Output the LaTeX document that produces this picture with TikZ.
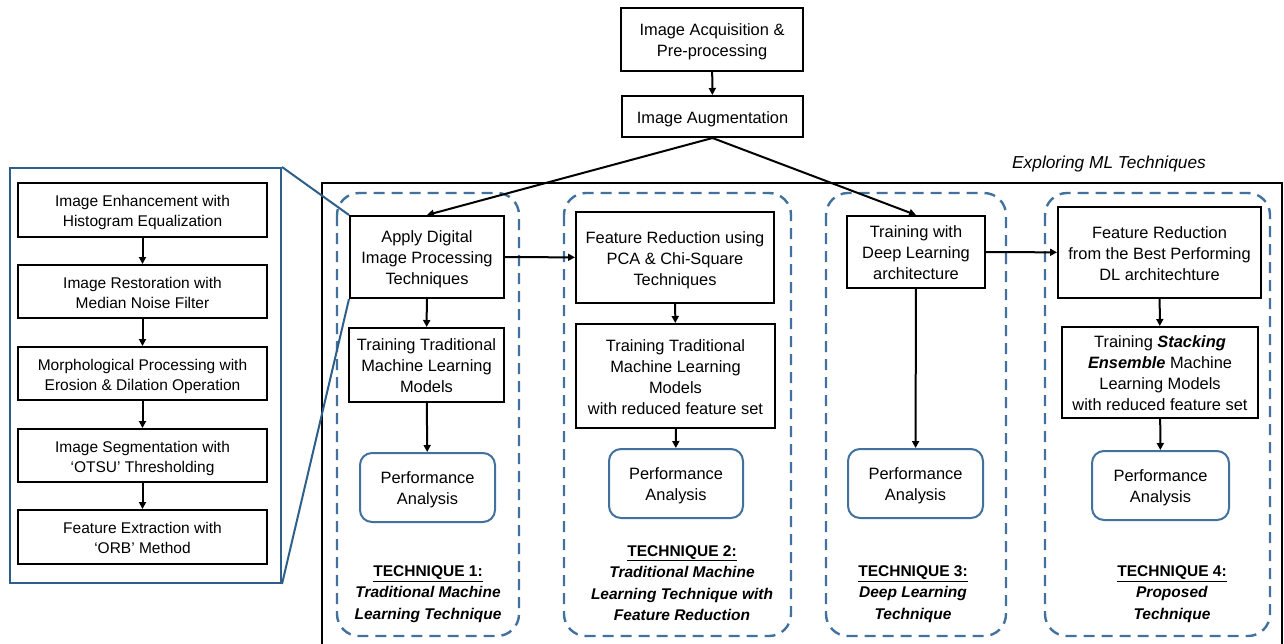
\documentclass[tikz,border=0pt]{standalone}
\usepackage{fontspec}
\setmainfont{Liberation Sans}
\usetikzlibrary{arrows.meta}
\definecolor{dashblue}{HTML}{41719C}
\definecolor{panelblue}{HTML}{2E5F8A}
\newcommand{\boxtext}[1]{\raisebox{-2.7pt}[\height][\depth]{\begin{tabular}{@{}c@{}}#1\end{tabular}}}
\begin{document}
\begin{tikzpicture}[x=1pt,y=-1pt,
  box/.style={draw=black,line width=2pt,inner sep=0pt,
    font=\fontsize{16.4}{21}\selectfont},
  sbox/.style={draw=black,line width=2pt,inner sep=0pt,
    minimum width=249pt,font=\fontsize{15.5}{20}\selectfont},
  perf/.style={draw=dashblue,line width=2pt,rounded corners=12pt,
    inner sep=0pt,minimum width=135pt,minimum height=69pt,
    font=\fontsize{16.4}{21}\selectfont},
  group/.style={draw=dashblue,line width=2.4pt,dash pattern=on 11pt off 7pt,
    rounded corners=22pt},
  tech/.style={align=center,inner sep=0pt,font=\bfseries\fontsize{15.5}{21.5}\selectfont},
  arr/.style={draw=black,line width=2pt,-{Triangle[length=7pt,width=7pt]}},
  zoomline/.style={draw=panelblue,line width=2pt}
]
\useasboundingbox (0,0) rectangle (1284,643);
\clip (0,0) rectangle (1284,643);

% main frame
\draw[line width=2pt] (322,183) rectangle (1282,660);
\node[font=\itshape\fontsize{17.3}{20}\selectfont] (title) at (1109,164) {Exploring ML Techniques};

% dashed groups
\draw[group] (337,193) rectangle (519,636);
\draw[group] (564,193) rectangle (791,636);
\draw[group] (826,193) rectangle (1006,636);
\draw[group] (1045,193) rectangle (1270,636);

% top boxes
\node[box,minimum width=182pt,minimum height=63pt] (acq) at (712,39.5) {\boxtext{Image Acquisition \&\\Pre-processing}};
\node[box,minimum width=181pt,minimum height=41pt] (aug) at (712.5,116.5) {\boxtext{Image Augmentation}};

% left panel
\node[draw=panelblue,line width=2pt,minimum width=271pt,minimum height=415pt,inner sep=0pt] (panel) at (145.5,375.5) {};
\node[sbox,minimum height=54pt] (p1) at (142.5,210) {\boxtext{Image Enhancement with\\Histogram Equalization}};
\node[sbox,minimum height=53pt] (p2) at (142.5,291.5) {\boxtext{Image Restoration with\\Median Noise Filter}};
\node[sbox,minimum height=53pt] (p3) at (142.5,373.5) {\boxtext{Morphological Processing with\\Erosion \& Dilation Operation}};
\node[sbox,minimum height=53pt] (p4) at (142.5,455.5) {\boxtext{Image Segmentation with\\‘OTSU’ Thresholding}};
\node[sbox,minimum height=54pt] (p5) at (142.5,537) {\boxtext{Feature Extraction with\\‘ORB’ Method}};

% technique 1
\node[box,minimum width=154pt,minimum height=82pt] (apply) at (427,257) {\boxtext{Apply Digital\\Image Processing\\Techniques}};
\node[box,minimum width=155pt,minimum height=74pt] (train1) at (426.5,365) {\boxtext{Training Traditional\\Machine Learning\\Models}};
\node[perf] (perf1) at (427.5,487.5) {\boxtext{Performance\\Analysis}};
\node[tech] (t1) at (428,594) {\underline{TECHNIQUE 1:}\\\textit{Traditional Machine}\\\textit{Learning Technique}};

% technique 2
\node[box,minimum width=198pt,minimum height=91pt] (fr2) at (675,257.5) {\boxtext{Feature Reduction using\\PCA \& Chi-Square\\Techniques}};
\node[box,minimum width=199pt,minimum height=104pt] (train2) at (675.5,376) {\boxtext{Training Traditional\\Machine Learning\\Models\\with reduced feature set}};
\node[perf,minimum width=134pt] (perf2) at (676,483.5) {\boxtext{Performance\\Analysis}};
\node[tech] (t2) at (682,583) {\underline{TECHNIQUE 2:}\\\textit{Traditional Machine}\\\textit{Learning Technique with}\\\textit{Feature Reduction}};

% technique 3
\node[box,minimum width=138pt,minimum height=72pt] (dl) at (916,252) {\boxtext{Training with\\Deep Learning\\architecture}};
\node[perf] (perf3) at (915.5,483.5) {\boxtext{Performance\\Analysis}};
\node[tech] (t3) at (913,594) {\underline{TECHNIQUE 3:}\\\textit{Deep Learning}\\\textit{Technique}};

% technique 4
\node[box,minimum width=203pt,minimum height=91pt] (fr4) at (1159.5,252.5) {\boxtext{Feature Reduction\\from the Best Performing\\DL architechture}};
\node[box,minimum width=196pt,minimum height=91pt] (train4) at (1160,372.5) {\boxtext{Training \textbf{\textit{Stacking}}\\\textbf{\textit{Ensemble}} Machine\\Learning Models\\with reduced feature set}};
\node[perf,minimum width=137pt] (perf4) at (1160.5,485.5) {\boxtext{Performance\\Analysis}};
\node[tech] (t4) at (1172,594) {\underline{TECHNIQUE 4:}\\\textit{Proposed}\\\textit{Technique}};

% arrows
\draw[arr] (acq) -- (aug);
\draw[arr] (aug.south) -- (apply.north);
\draw[arr] (aug.south) -- (dl.north);
\draw[arr] (apply) -- (fr2);
\draw[arr] (apply) -- (train1);
\draw[arr] (train1) -- (perf1);
\draw[arr] (fr2) -- (train2);
\draw[arr] (train2) -- (perf2);
\draw[arr] (dl) -- (fr4);
\draw[arr] (dl) -- (perf3);
\draw[arr] (fr4) -- (train4);
\draw[arr] (train4) -- (perf4);
\draw[arr] (p1) -- (p2);
\draw[arr] (p2) -- (p3);
\draw[arr] (p3) -- (p4);
\draw[arr] (p4) -- (p5);

% zoom lines
\draw[zoomline] (panel.north east) -- (apply.north west);
\draw[zoomline] (panel.south east) -- (apply.south west);
\end{tikzpicture}
\end{document}
